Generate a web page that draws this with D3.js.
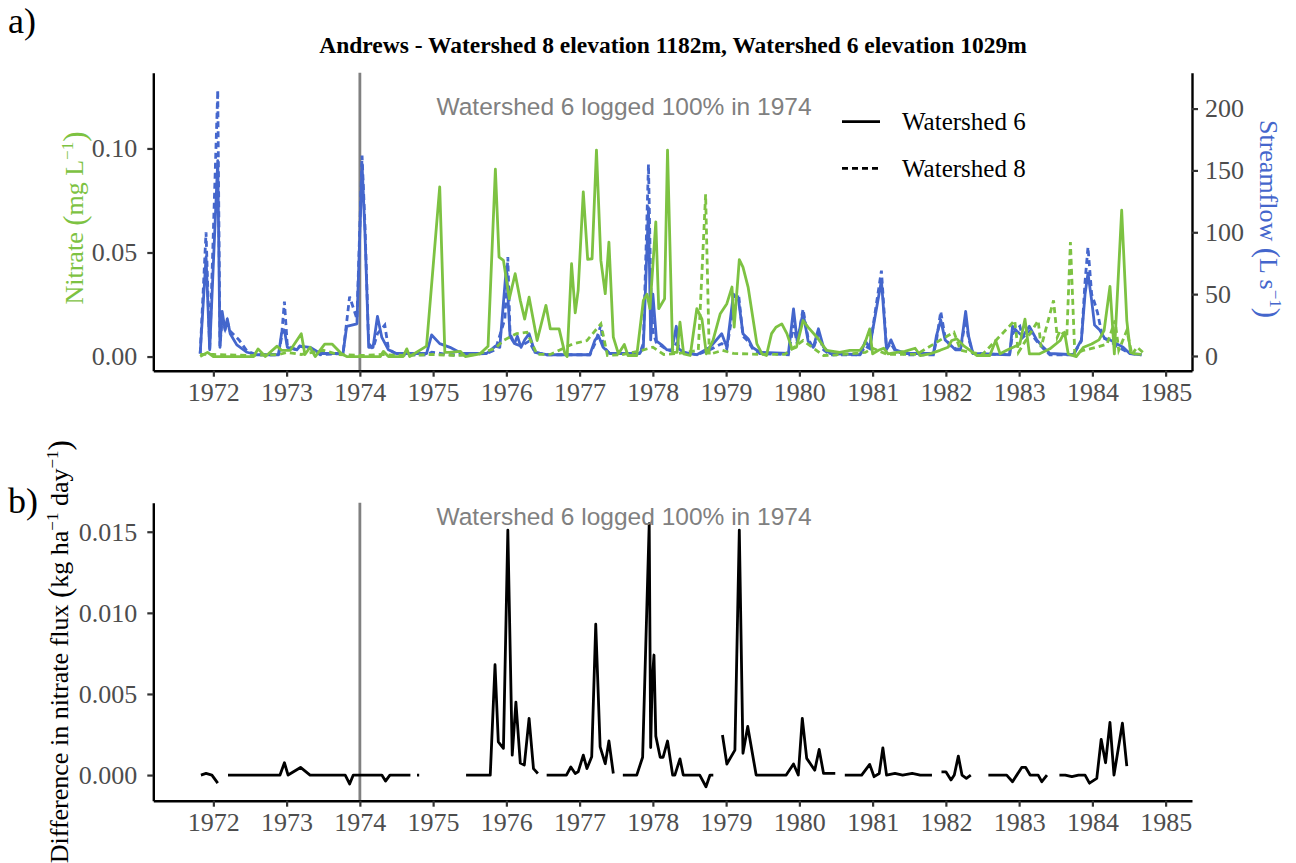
<!DOCTYPE html>
<html><head><meta charset="utf-8">
<script src="https://cdn.jsdelivr.net/npm/d3@7"></script>
<style>body{margin:0;background:#fff}</style>
</head><body>
<svg id="c" width="1296" height="863"></svg>
<script>
// ---- DATA ----
const yearTicks = [1972,1973,1974,1975,1976,1977,1978,1979,1980,1981,1982,1983,1984,1985];
const nitrateTicks = [0, 0.05, 0.10];
const flowTicks = [0, 50, 100, 150, 200];
const diffTicks = [0, 0.005, 0.010, 0.015];
const loggingYear = 1974;

// Watershed 6 streamflow (L/s) [decimal year, value]
const ws6Flow = [[1971.82,2],[1971.90,80],[1971.95,5],[1972.06,158],[1972.09,7],[1972.12,36],[1972.16,21],[1972.19,30],[1972.23,18],[1972.32,9],[1972.46,3],[1972.59,1],[1972.89,1],[1972.93,18],[1972.97,21],[1973.01,7],[1973.14,5],[1973.18,8],[1973.32,7],[1973.46,2],[1973.77,2],[1973.82,24],[1973.96,26],[1974.03,155],[1974.07,99],[1974.12,7],[1974.18,7],[1974.24,32],[1974.30,15],[1974.39,5],[1974.50,2],[1974.91,2],[1974.98,17],[1975.09,10],[1975.23,7],[1975.39,2],[1975.73,2],[1975.85,8],[1975.91,7],[1976.00,72],[1976.05,16],[1976.11,10],[1976.15,16],[1976.20,7],[1976.25,13],[1976.31,18],[1976.39,3],[1976.55,1],[1977.14,1],[1977.21,13],[1977.26,16],[1977.32,7],[1977.41,2],[1977.82,2],[1977.87,7],[1977.94,120],[1977.97,13],[1978.00,50],[1978.05,12],[1978.12,9],[1978.19,5],[1978.26,5],[1978.32,24],[1978.35,6],[1978.42,3],[1978.60,1],[1978.78,7],[1978.94,18],[1979.01,7],[1979.10,50],[1979.17,45],[1979.23,18],[1979.30,14],[1979.36,7],[1979.46,3],[1979.85,2],[1979.92,38],[1979.97,12],[1980.05,35],[1980.12,12],[1980.19,7],[1980.26,22],[1980.33,7],[1980.42,2],[1980.83,1],[1980.90,12],[1980.96,7],[1981.12,61],[1981.19,5],[1981.25,13],[1981.31,5],[1981.46,2],[1981.83,2],[1981.87,16],[1981.93,29],[1981.99,13],[1982.06,9],[1982.13,5],[1982.20,5],[1982.27,36],[1982.31,16],[1982.37,2],[1982.87,1],[1982.91,24],[1982.97,20],[1983.05,16],[1983.14,24],[1983.24,13],[1983.33,7],[1983.42,2],[1983.74,1],[1983.85,13],[1983.90,50],[1983.94,67],[1983.99,45],[1984.03,25],[1984.10,21],[1984.17,14],[1984.24,13],[1984.33,10],[1984.42,7],[1984.51,2],[1984.67,1]];

// Watershed 8 streamflow (L/s)
const ws8Flow = [[1971.82,2],[1971.90,100],[1971.95,5],[1972.06,215],[1972.09,8],[1972.12,30],[1972.16,22],[1972.19,28],[1972.23,20],[1972.35,13],[1972.46,4],[1972.59,1],[1972.89,1],[1972.93,15],[1972.97,44],[1973.01,8],[1973.14,5],[1973.18,8],[1973.32,6],[1973.46,1],[1973.77,2],[1973.86,48],[1973.96,30],[1974.03,162],[1974.07,105],[1974.12,10],[1974.18,6],[1974.24,18],[1974.34,25],[1974.39,6],[1974.50,1],[1974.91,1],[1974.98,3],[1975.23,1],[1975.39,1],[1975.73,2],[1975.85,5],[1975.98,30],[1976.02,80],[1976.05,18],[1976.11,10],[1976.20,8],[1976.31,12],[1976.39,3],[1976.55,1],[1977.14,1],[1977.21,10],[1977.29,25],[1977.32,8],[1977.41,2],[1977.82,2],[1977.87,10],[1977.94,155],[1977.97,60],[1978.00,20],[1978.05,10],[1978.12,8],[1978.19,5],[1978.26,4],[1978.32,10],[1978.42,3],[1978.60,1],[1978.78,5],[1978.94,10],[1979.01,6],[1979.10,40],[1979.17,50],[1979.23,16],[1979.30,12],[1979.36,6],[1979.46,2],[1979.85,1],[1979.92,25],[1979.97,10],[1980.05,38],[1980.12,14],[1980.19,6],[1980.26,18],[1980.33,5],[1980.42,1],[1980.83,1],[1980.90,8],[1980.96,6],[1981.12,69],[1981.19,6],[1981.25,10],[1981.31,4],[1981.46,1],[1981.83,1],[1981.87,12],[1981.93,36],[1981.99,15],[1982.06,8],[1982.13,6],[1982.20,5],[1982.27,30],[1982.31,14],[1982.37,2],[1982.87,1],[1982.91,18],[1982.97,22],[1983.01,24],[1983.05,15],[1983.14,20],[1983.24,12],[1983.33,6],[1983.42,1],[1983.74,1],[1983.85,12],[1983.90,60],[1983.94,88],[1983.99,50],[1984.03,43],[1984.07,35],[1984.14,15],[1984.24,12],[1984.33,8],[1984.42,5],[1984.51,2],[1984.67,1]];

// Watershed 6 nitrate (mg/L)
const ws6Nitrate = [[1971.82,0],[1971.92,0.002],[1972.00,0],[1972.55,0],[1972.61,0.0037],[1972.71,0],[1972.87,0.005],[1972.93,0.003],[1973.05,0.003],[1973.20,0.011],[1973.25,0.001],[1973.32,0.0045],[1973.39,0],[1973.52,0.006],[1973.62,0.006],[1973.75,0.0013],[1973.82,0],[1974.28,0],[1974.32,0.0025],[1974.39,0],[1974.59,0],[1974.64,0.0037],[1974.68,0],[1974.91,0.005],[1975.09,0.0815],[1975.16,0.002],[1975.23,0.002],[1975.37,0.0025],[1975.44,0],[1975.64,0.0013],[1975.75,0.005],[1975.85,0.090],[1975.90,0.0478],[1975.96,0.0462],[1976.04,0.0278],[1976.12,0.0398],[1976.19,0.027],[1976.25,0.018],[1976.31,0.0285],[1976.42,0.0077],[1976.54,0.0246],[1976.60,0.0133],[1976.72,0.0133],[1976.80,0.0013],[1976.83,0],[1976.89,0.0446],[1976.94,0.021],[1976.98,0.0318],[1977.05,0.0791],[1977.11,0.0467],[1977.17,0.047],[1977.23,0.0992],[1977.29,0.0462],[1977.35,0.0302],[1977.40,0.055],[1977.46,0.0093],[1977.53,0.0013],[1977.61,0.0058],[1977.66,0.0005],[1977.78,0.0005],[1977.87,0.027],[1977.92,0.030],[1977.96,0.023],[1978.04,0.0647],[1978.08,0.023],[1978.16,0.0278],[1978.20,0.0992],[1978.27,0.002],[1978.33,0.002],[1978.37,0.0165],[1978.42,0.0013],[1978.51,0.0005],[1978.60,0.023],[1978.67,0.018],[1978.73,0.0013],[1978.82,0.0077],[1978.92,0.0206],[1979.01,0.0254],[1979.08,0.0334],[1979.11,0.0141],[1979.18,0.0466],[1979.23,0.043],[1979.30,0.0334],[1979.42,0.0061],[1979.49,0.0013],[1979.55,0.0005],[1979.62,0.011],[1979.68,0.0141],[1979.76,0.0157],[1979.83,0.011],[1979.90,0.0037],[1979.96,0.0045],[1980.05,0.0173],[1980.12,0.014],[1980.24,0.0093],[1980.37,0.003],[1980.55,0.002],[1980.69,0.003],[1980.83,0.003],[1980.89,0.006],[1980.96,0.0133],[1981.00,0.0013],[1981.08,0.003],[1981.15,0.004],[1981.21,0.0013],[1981.33,0.002],[1981.44,0.0025],[1981.58,0.004],[1981.65,0.0005],[1981.78,0.0013],[1981.92,0.003],[1982.03,0.0045],[1982.08,0.0077],[1982.15,0.0085],[1982.24,0.0053],[1982.33,0.003],[1982.42,0.0005],[1982.60,0.0005],[1982.68,0.0077],[1982.74,0.0013],[1982.83,0.003],[1983.01,0.006],[1983.08,0.018],[1983.14,0.0013],[1983.28,0.0013],[1983.42,0.0037],[1983.56,0.0077],[1983.62,0.0117],[1983.67,0.0013],[1983.78,0],[1983.88,0.0045],[1983.99,0.006],[1984.09,0.008],[1984.16,0.0125],[1984.24,0.0337],[1984.30,0.0013],[1984.40,0.0703],[1984.47,0.0173],[1984.52,0.002],[1984.58,0.0013],[1984.67,0.001]];

// Watershed 8 nitrate (mg/L)
const ws8Nitrate = [[1971.82,0.001],[1972.00,0.001],[1972.50,0.0005],[1972.90,0.001],[1973.00,0.002],[1973.20,0.001],[1973.50,0.003],[1973.70,0.001],[1974.00,0.0005],[1974.30,0.001],[1974.60,0.0005],[1975.00,0.001],[1975.30,0.0005],[1975.60,0.001],[1975.85,0.004],[1975.96,0.0077],[1976.08,0.010],[1976.14,0.011],[1976.28,0.0117],[1976.42,0.001],[1976.60,0.001],[1976.90,0.006],[1977.10,0.0077],[1977.29,0.0157],[1977.38,0.0005],[1977.60,0.001],[1977.85,0.003],[1978.00,0.0045],[1978.15,0.001],[1978.35,0.0015],[1978.62,0.003],[1978.72,0.078],[1978.77,0.001],[1978.95,0.003],[1979.10,0.0015],[1979.50,0.001],[1979.80,0.001],[1980.05,0.0077],[1980.33,0.0005],[1980.60,0.001],[1980.90,0.002],[1981.00,0.004],[1981.20,0.001],[1981.60,0.001],[1981.95,0.0085],[1982.11,0.0117],[1982.20,0.003],[1982.50,0.001],[1982.94,0.0173],[1982.99,0.002],[1983.26,0.0173],[1983.30,0.0045],[1983.47,0.027],[1983.52,0.0093],[1983.56,0.0125],[1983.65,0.009],[1983.70,0.055],[1983.76,0.0013],[1983.88,0.003],[1984.06,0.0045],[1984.20,0.006],[1984.31,0.0173],[1984.36,0.003],[1984.47,0.0125],[1984.54,0.001],[1984.61,0.0045],[1984.69,0.002]];

// Difference in nitrate flux (kg/ha/day), null = gap
const fluxDiff = [[1971.83,0],[1971.90,0.0001],[1971.98,0],[1972.06,-0.0005],[1972.10,null],
[1972.20,0],[1972.91,0],[1972.97,0.00076],[1973.02,0],[1973.19,0.00047],[1973.32,0],[1973.80,0],[1973.86,-0.00055],[1973.91,0],[1974.30,0],[1974.35,-0.00037],[1974.41,0],[1974.69,0],[1974.74,null],
[1974.78,0],[1974.81,0],[1974.90,null],
[1975.45,0],[1975.78,0],[1975.845,0.0068],[1975.89,0.00205],[1975.96,0.00165],[1976.02,0.0151],[1976.08,0.00123],[1976.13,0.0045],[1976.19,0.00074],[1976.245,0.00062],[1976.31,0.0035],[1976.37,0.0004],[1976.43,0.0001],[1976.50,null],
[1976.55,0],[1976.82,0],[1976.88,0.0005],[1976.94,0.0001],[1976.98,0.0002],[1977.05,0.00123],[1977.10,0.0004],[1977.165,0.00113],[1977.22,0.0093],[1977.28,0.00174],[1977.35,0.0007],[1977.40,0.0021],[1977.46,0.0001],[1977.52,null],
[1977.59,0],[1977.78,0],[1977.86,0.0011],[1977.95,0.0155],[1977.97,0.0017],[1977.99,0.0057],[1978.015,0.0074],[1978.04,0.0024],[1978.10,0.0011],[1978.14,0.0011],[1978.20,0.0021],[1978.27,0],[1978.30,0],[1978.37,0.001],[1978.415,0],[1978.64,0],[1978.725,-0.00072],[1978.78,0],[1978.825,0],[1978.88,null],
[1978.95,0.00247],[1979.01,0.00068],[1979.12,0.00154],[1979.18,0.0151],[1979.23,0.00134],[1979.295,0.003],[1979.41,0],[1979.78,0],[1979.82,0],[1979.92,0.00068],[1979.985,0],[1980.04,0.0035],[1980.10,0.00103],[1980.21,0.0003],[1980.27,0.00158],[1980.33,0.0001],[1980.49,0.0001],[1980.55,null],
[1980.62,0],[1980.85,0],[1980.96,0.00066],[1981.02,-0.0001],[1981.09,0.0001],[1981.14,0.00168],[1981.19,0],[1981.305,0.0001],[1981.41,0],[1981.54,0.0001],[1981.65,0],[1981.81,0],[1981.87,null],
[1981.94,0.0002],[1982.00,0.0002],[1982.07,-0.0003],[1982.115,0],[1982.17,0.00117],[1982.22,0],[1982.28,-0.0002],[1982.34,0],[1982.45,null],
[1982.58,0],[1982.83,0],[1982.91,-0.00041],[1983.035,0.00047],[1983.09,0.00047],[1983.15,0],[1983.26,0],[1983.31,-0.00041],[1983.38,0],[1983.45,null],
[1983.55,0],[1983.63,0],[1983.72,-0.0001],[1983.81,0],[1983.90,0],[1983.96,-0.0005],[1984.06,-0.0002],[1984.12,0.0022],[1984.18,0.00076],[1984.24,0.00325],[1984.295,0],[1984.41,0.0032],[1984.47,0.00055]];

const titleText = "Andrews - Watershed 8 elevation 1182m, Watershed 6 elevation 1029m";
const annotText = "Watershed 6 logged 100% in 1974";
const legendLabels = ["Watershed 6", "Watershed 8"];

// ---- STYLE ----
const GREEN = "#7dc242", BLUE = "#4466cc", GREY = "#808080";
const SERIF = "'Liberation Serif','Times New Roman',serif";
const SANS = "'Liberation Sans',Arial,sans-serif";
const LW = 2.8, DASH = "6,4";
const FS = 26;

const svg = d3.select("#c");

// scales
const x = d3.scaleLinear().domain([1971.18, 1985.36]).range([153.3, 1192]);
const yN = d3.scaleLinear().domain([-0.0068, 0.1364]).range([370.7, 72.7]);
const yF = d3.scaleLinear().domain([-11.9, 229]).range([370.7, 72.7]);
const yD = d3.scaleLinear().domain([-0.00158, 0.01679]).range([800.7, 502.7]);

function styleAxis(g){
  g.selectAll(".domain").attr("stroke","#000").attr("stroke-width",2.4);
  g.selectAll(".tick line").attr("stroke","#333").attr("stroke-width",2.2);
  g.selectAll(".tick text").attr("font-family",SERIF).attr("font-size",FS).attr("fill","#4d4d4d");
}

// Title
svg.append("text").attr("x",673).attr("y",53).attr("text-anchor","middle")
  .attr("font-family",SERIF).attr("font-weight","bold").attr("font-size",23.5).text(titleText);
svg.append("text").attr("x",8).attr("y",33).attr("font-family",SERIF).attr("font-size",36).text("a)");
svg.append("text").attr("x",8).attr("y",513).attr("font-family",SERIF).attr("font-size",36).text("b)");

// ---- Panel a ----
const pa = svg.append("g");
pa.append("line").attr("x1",x(loggingYear)).attr("x2",x(loggingYear)).attr("y1",72.7).attr("y2",370.7)
  .attr("stroke",GREY).attr("stroke-width",2.8);

const lineF = d3.line().x(d=>x(d[0])).y(d=>yF(d[1]));
const lineN = d3.line().x(d=>x(d[0])).y(d=>yN(d[1]));
pa.append("path").datum(ws6Flow).attr("d",lineF).attr("fill","none").attr("stroke",BLUE).attr("stroke-width",LW).attr("stroke-linejoin","round");
pa.append("path").datum(ws8Flow).attr("d",lineF).attr("fill","none").attr("stroke",BLUE).attr("stroke-width",LW).attr("stroke-dasharray",DASH);
pa.append("path").datum(ws8Nitrate).attr("d",lineN).attr("fill","none").attr("stroke",GREEN).attr("stroke-width",LW).attr("stroke-dasharray",DASH);
pa.append("path").datum(ws6Nitrate).attr("d",lineN).attr("fill","none").attr("stroke",GREEN).attr("stroke-width",LW).attr("stroke-linejoin","round");

pa.append("text").attr("x",624).attr("y",115).attr("text-anchor","middle").attr("font-family",SANS)
  .attr("font-size",24.5).attr("fill",GREY).text(annotText);

pa.append("g").attr("transform","translate(0,370.7)")
  .call(d3.axisBottom(x).tickValues(yearTicks).tickFormat(d3.format("d")).tickSize(6).tickSizeOuter(0).tickPadding(5.5)).call(styleAxis);
pa.append("g").attr("transform","translate(153.3,0)")
  .call(d3.axisLeft(yN).tickValues(nitrateTicks).tickFormat(d3.format(".2f")).tickSize(6).tickSizeOuter(0).tickPadding(10)).call(styleAxis);
pa.append("g").attr("transform","translate(1192,0)")
  .call(d3.axisRight(yF).tickValues(flowTicks).tickFormat(d3.format("d")).tickSize(6).tickSizeOuter(0).tickPadding(7)).call(styleAxis);

// legend
const lg = pa.append("g");
legendLabels.forEach((lab,i)=>{
  const yy = 121.7 + i*46.6;
  lg.append("line").attr("x1",842).attr("x2",880).attr("y1",yy).attr("y2",yy).attr("stroke","#000")
    .attr("stroke-width",LW).attr("stroke-dasharray", i===1?DASH:null);
  lg.append("text").attr("x",902).attr("y",yy+8.5).attr("font-family",SERIF).attr("font-size",25).text(lab);
});

// y titles (plotmath-like: larger parentheses)
function unitTitle(t, pre, unit){
  t.append("tspan").text(pre + " ");
  t.append("tspan").attr("font-size",31).attr("dy",2).text("(");
  t.append("tspan").attr("dy",-2).text(unit);
  t.append("tspan").attr("dy",-10).attr("font-size",17).text("−1");
  t.append("tspan").attr("dy",12).attr("font-size",31).text(")");
}
const tN = svg.append("text").attr("transform","translate(83,218) rotate(-90)").attr("text-anchor","middle")
  .attr("font-family",SERIF).attr("font-size",FS).attr("fill",GREEN);
unitTitle(tN, "Nitrate ", "mg L");

const tF = svg.append("text").attr("transform","translate(1260,219) rotate(90)").attr("text-anchor","middle")
  .attr("font-family",SERIF).attr("font-size",FS).attr("fill",BLUE);
unitTitle(tF, "Streamflow ", "L s");

// ---- Panel b ----
const pb = svg.append("g");
pb.append("line").attr("x1",x(loggingYear)).attr("x2",x(loggingYear)).attr("y1",502.7).attr("y2",800.7)
  .attr("stroke",GREY).attr("stroke-width",2.8);
const lineD = d3.line().defined(d=>d[1]!==null).x(d=>x(d[0])).y(d=>yD(d[1]));
pb.append("path").datum(fluxDiff).attr("d",lineD).attr("fill","none").attr("stroke","#000").attr("stroke-width",LW).attr("stroke-linejoin","round");
pb.append("text").attr("x",624).attr("y",525).attr("text-anchor","middle").attr("font-family",SANS)
  .attr("font-size",24.5).attr("fill",GREY).text(annotText);

pb.append("g").attr("transform","translate(0,800.7)")
  .call(d3.axisBottom(x).tickValues(yearTicks).tickFormat(d3.format("d")).tickSize(6).tickSizeOuter(0).tickPadding(5.5)).call(styleAxis);
pb.append("g").attr("transform","translate(153.3,0)")
  .call(d3.axisLeft(yD).tickValues(diffTicks).tickFormat(d3.format(".3f")).tickSize(6).tickSizeOuter(0).tickPadding(10)).call(styleAxis);

const tD = svg.append("text").attr("transform","translate(68,651.7) rotate(-90)").attr("text-anchor","middle")
  .attr("font-family",SERIF).attr("font-size",FS).attr("fill","#000");
tD.append("tspan").text("Difference in nitrate flux ");
tD.append("tspan").attr("font-size",31).attr("dy",2).text("(");
tD.append("tspan").attr("dy",-2).text("kg ha");
tD.append("tspan").attr("dy",-10).attr("font-size",17).text("−1");
tD.append("tspan").attr("dy",10).text(" day");
tD.append("tspan").attr("dy",-10).attr("font-size",17).text("−1");
tD.append("tspan").attr("dy",12).attr("font-size",31).text(")");
</script>
</body></html>
